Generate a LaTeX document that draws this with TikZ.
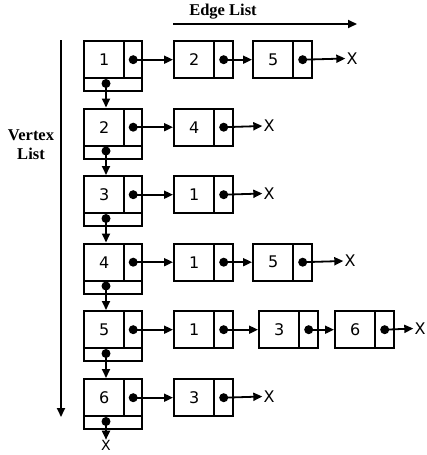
\documentclass[tikz,border=0pt]{standalone}
\usepackage{fontspec}
\setmainfont{DejaVu Sans}
\newfontfamily\lblfont{Liberation Serif}
\usetikzlibrary{arrows.meta}
\tikzset{
  cell/.style={draw, line width=2.4pt, inner sep=0pt, anchor=north west,
    minimum height=37pt, font=\fontsize{16}{16}\selectfont},
  dot/.style={circle, fill=black, inner sep=0pt, minimum size=9pt},
  arr/.style={line width=1.8pt, -{Triangle[length=9pt,width=8pt]}},
  xlbl/.style={inner sep=1pt, font=\fontsize{16}{16}\selectfont},
  lbl/.style={font=\lblfont\bfseries\fontsize{16.5}{19}\selectfont, align=center}
}
% vertex record: name, top, label
\newcommand\VRec[3]{%
  \node[cell, minimum width=40pt] (#1) at (83,#2) {#3};
  \node[cell, minimum width=18pt] (#1p) at (123,#2) {};
  \node[cell, minimum width=58pt, minimum height=13pt] (#1n) at (83,{#2+37}) {};
  \node[dot] (#1pd) at (#1p.center) {};
  \node[dot] (#1nd) at (106,{#2+43.5}) {};
}
% edge record: name, left, top, label
\newcommand\ERec[4]{%
  \node[cell, minimum width=40pt] (#1) at (#2,#3) {#4};
  \node[cell, minimum width=19pt] (#1p) at ({#2+40},#3) {};
  \node[dot] (#1pd) at (#1p.center) {};
}
\begin{document}
\begin{tikzpicture}[x=1pt,y=-1pt]
\useasboundingbox[fill=white] (0,0) rectangle (427,455);

% axis labels and arrows
\node[lbl] (el) at (223,12) {Edge List};
\coordinate (elS) at (173,24);
\coordinate (elE) at (357,24);
\draw[arr] (elS) -- (elE);
\node[lbl] (vl) at (31,145) {Vertex\\List};
\coordinate (vlS) at (61,40);
\coordinate (vlE) at (61,417);
\draw[arr] (vlS) -- (vlE);

% vertex records
\VRec{v1}{40}{1}
\VRec{v2}{107.5}{2}
\VRec{v3}{175}{3}
\VRec{v4}{242.5}{4}
\VRec{v5}{310}{5}
\VRec{v6}{378}{6}

% vertical links
\draw[arr] (v1nd.center) -- (v1nd.center |- v2.north);
\draw[arr] (v2nd.center) -- (v2nd.center |- v3.north);
\draw[arr] (v3nd.center) -- (v3nd.center |- v4.north);
\draw[arr] (v4nd.center) -- (v4nd.center |- v5.north);
\draw[arr] (v5nd.center) -- (v5nd.center |- v6.north);
\node[xlbl, inner sep=0pt, font=\fontsize{14}{14}\selectfont] (xv) at (106,445) {X};
\draw[arr] (v6nd.center) -- (xv.north);

% row 1
\ERec{a1}{173}{40}{2}
\ERec{a2}{252}{40}{5}
\node[xlbl] (xa) at (352,58.5) {X};
\draw[arr] (v1pd.center) -- (a1.west);
\draw[arr] (a1pd.center) -- (a2.west);
\draw[arr] (a2pd.center) -- (xa.west);

% row 2
\ERec{b1}{173}{107.5}{4}
\node[xlbl] (xb) at (269,126) {X};
\draw[arr] (v2pd.center) -- (b1.west);
\draw[arr] (b1pd.center) -- (xb.west);

% row 3
\ERec{c1}{173}{175}{1}
\node[xlbl] (xc) at (269,193.5) {X};
\draw[arr] (v3pd.center) -- (c1.west);
\draw[arr] (c1pd.center) -- (xc.west);

% row 4
\ERec{d1}{173}{242.5}{1}
\ERec{d2}{252}{242.5}{5}
\node[xlbl] (xd) at (350,261) {X};
\draw[arr] (v4pd.center) -- (d1.west);
\draw[arr] (d1pd.center) -- (d2.west);
\draw[arr] (d2pd.center) -- (xd.west);

% row 5
\ERec{f1}{173}{310}{1}
\ERec{f2}{258}{310}{3}
\ERec{f3}{334}{310}{6}
\node[xlbl] (xf) at (420,328.5) {X};
\draw[arr] (v5pd.center) -- (f1.west);
\draw[arr] (f1pd.center) -- (f2.west);
\draw[arr] (f2pd.center) -- (f3.west);
\draw[arr] (f3pd.center) -- (xf.west);

% row 6
\ERec{g1}{173}{378}{3}
\node[xlbl] (xg) at (269,396.5) {X};
\draw[arr] (v6pd.center) -- (g1.west);
\draw[arr] (g1pd.center) -- (xg.west);
\end{tikzpicture}
\end{document}
